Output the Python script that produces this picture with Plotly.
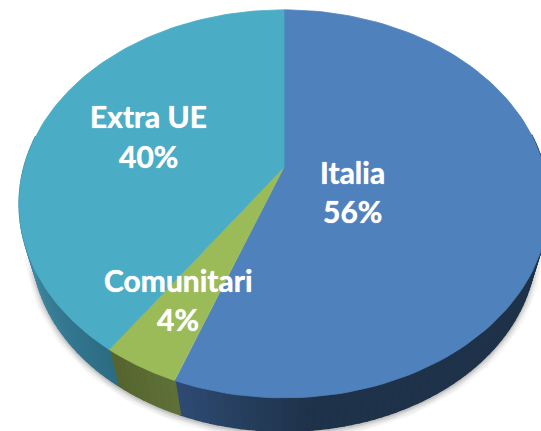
import numpy as np
import plotly.graph_objects as go

categories = ["Italia", "Comunitari", "Extra UE"]
values = [55.6, 4.0, 40.4]
top_colors = ["#4f81bd", "#9bbb59", "#4aacc5"]
side_start = ["#2f4b73", "#5f7137", "#2c6c83"]
side_end = ["#1e3249", "#55642f", "#4692ac"]
label_x = [352, 178, 148]
name_y = [172, 280, 116]
pct_y = [211, 319, 156]

W, H = 541, 431
CX, APEX_Y = 284, 167
A, B, K = 260, 187, 0.19
ELL_CY, SCALE, BOTTOM_CY = 204, 0.95, 247


def top_point(deg):
    t = np.radians(deg)
    u, v = np.sin(t), np.cos(t)
    d = 1 + K * v
    return CX + A * u / d, APEX_Y - B * v / d


def bottom_point(deg):
    x, y = top_point(deg)
    return CX + SCALE * (x - CX), BOTTOM_CY + SCALE * (y - ELL_CY)


def poly(xs, ys, fill, width=0.8):
    return go.Scatter(x=xs, y=ys, mode="lines", fill="toself", fillcolor=fill,
                      line=dict(color=fill, width=width),
                      hoverinfo="skip", showlegend=False)


def mix(c1, c2, f):
    a = [int(c1[i:i + 2], 16) for i in (1, 3, 5)]
    b = [int(c2[i:i + 2], 16) for i in (1, 3, 5)]
    return "rgb(%d,%d,%d)" % tuple(round(p + (q - p) * f) for p, q in zip(a, b))


fig = go.Figure()

# soft drop shadow along the lower outline
deg = np.linspace(78, 282, 150)
px, py = zip(*[bottom_point(d) for d in deg])
for w, o in [(15, 0.03), (11, 0.045), (7, 0.07), (3, 0.1)]:
    fig.add_trace(go.Scatter(x=list(px), y=[p + 1.5 for p in py], mode="lines",
                             line=dict(color="rgba(0,0,0,%g)" % o, width=w),
                             hoverinfo="skip", showlegend=False))

# slice spans, clockwise from the top
edges = np.cumsum([0] + values) / sum(values) * 360

# side wall as thin strips, painted so the dark edge between slices stays crisp
for i in range(len(values)):
    a0, a1 = edges[i], edges[i + 1]
    n = max(2, int((a1 - a0) / 1.5))
    steps = np.linspace(a0, a1, n + 1)
    for j in range(n):
        s0, s1 = steps[j], steps[j + 1]
        mid = (s0 + s1) / 2
        if not (80 < mid < 280):
            continue
        lo, hi = max(a0, 80), min(a1, 280)
        f = (mid - lo) / (hi - lo)
        if i == 0:
            f = min(1, (hi - mid) / 25)
        elif i == 2:
            f = min(1, f * 1.4)
        c = mix(side_start[i], side_end[i], f)
        x0, y0 = top_point(s0)
        x1, y1 = top_point(s1)
        x2, y2 = bottom_point(s1)
        x3, y3 = bottom_point(s0)
        fig.add_trace(poly([x0, x1, x2, x3, x0], [y0, y1, y2, y3, y0], c, width=1.6))

# top face
for i in range(len(values)):
    arc = np.linspace(edges[i], edges[i + 1], 121)
    xs, ys = zip(*[top_point(d) for d in arc])
    fig.add_trace(poly([CX] + list(xs) + [CX], [APEX_Y] + list(ys) + [APEX_Y], top_colors[i]))

font = dict(family="Lato, Carlito, sans-serif", size=30, color="white", weight="bold",
            shadow="0 0 1px white")
for c, v, x, y1, y2 in zip(categories, values, label_x, name_y, pct_y):
    fig.add_annotation(x=x, y=y1, text=c, showarrow=False, font=font)
    fig.add_annotation(x=x, y=y2, text=f"{round(v)}%", showarrow=False, font=font)

fig.update_layout(
    width=W, height=H, margin=dict(l=0, r=0, t=0, b=0),
    paper_bgcolor="white", plot_bgcolor="white", showlegend=False,
    xaxis=dict(range=[0, W], visible=False, fixedrange=True),
    yaxis=dict(range=[H, 0], visible=False, fixedrange=True),
)
fig.write_html("out.html", config=dict(displayModeBar=False),
               post_script="document.body.style.margin='0';document.documentElement.style.overflow='hidden';")
